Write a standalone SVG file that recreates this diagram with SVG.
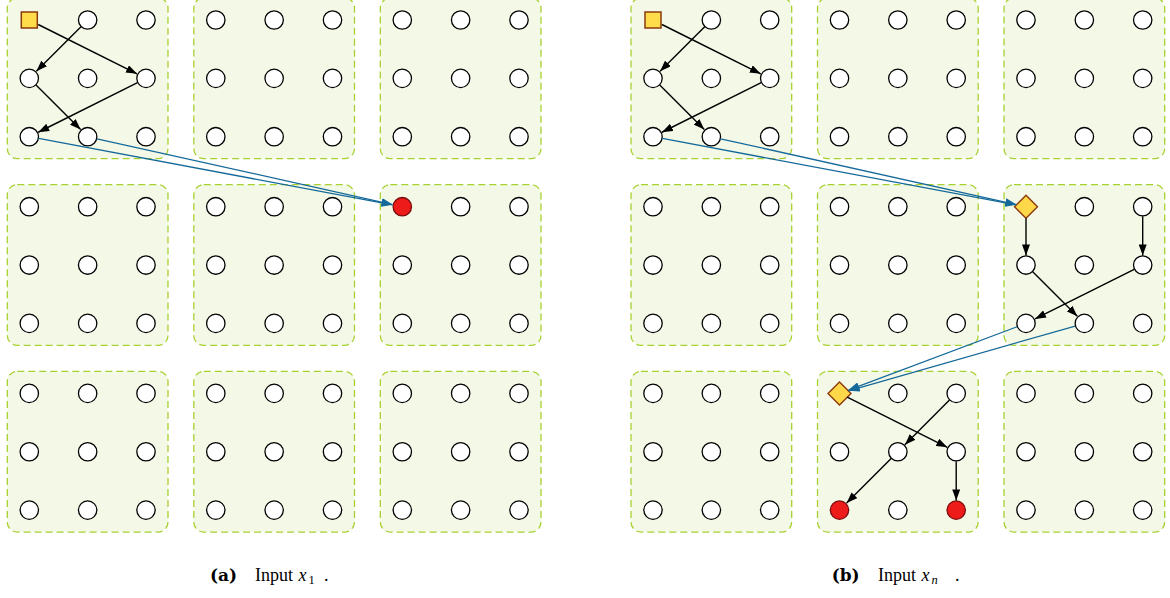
<svg xmlns="http://www.w3.org/2000/svg" width="1170" height="598" viewBox="0 0 1170 598">
<style>
.blk{fill:#f4f9e7;stroke:#a7d130;stroke-width:1.3;stroke-dasharray:7 4}
.n{fill:#ffffff;stroke:#000;stroke-width:1.3}
.r{fill:#ee1b1b;stroke:#7a0c0c;stroke-width:1.3}
.sq{fill:#ffdc4a;stroke:#8a3a0c;stroke-width:1.5}
.dm{fill:#ffd84a;stroke:#8a3a0c;stroke-width:1.4}
.e{stroke:#000;stroke-width:1.4;fill:none;marker-end:url(#ak)}
.eb{stroke:#14699a;stroke-width:1.3;fill:none;marker-end:url(#ab)}
.cap{font-family:"Liberation Serif","Times New Roman",serif;font-size:18px;fill:#000}
.bd{font-family:"DejaVu Serif","Liberation Serif",serif;font-size:17px;font-weight:bold}
.it{font-style:italic}
.sub{font-size:12.5px}
</style>
<defs>
<marker id="ak" markerUnits="userSpaceOnUse" markerWidth="11" markerHeight="8" refX="11" refY="4" orient="auto"><path d="M0,0 L11,4 L0,8 z" fill="#000"/></marker>
<marker id="ab" markerUnits="userSpaceOnUse" markerWidth="11" markerHeight="8" refX="11" refY="4" orient="auto"><path d="M0,0 L11,4 L0,8 z" fill="#14699a"/></marker>
</defs>
<g id="blocks">
<rect class="blk" x="7.3" y="-2" width="160.7" height="160.7" rx="10"/>
<rect class="blk" x="193.8" y="-2" width="160.7" height="160.7" rx="10"/>
<rect class="blk" x="380.3" y="-2" width="160.7" height="160.7" rx="10"/>
<rect class="blk" x="7.3" y="184.7" width="160.7" height="160.7" rx="10"/>
<rect class="blk" x="193.8" y="184.7" width="160.7" height="160.7" rx="10"/>
<rect class="blk" x="380.3" y="184.7" width="160.7" height="160.7" rx="10"/>
<rect class="blk" x="7.3" y="371.4" width="160.7" height="160.7" rx="10"/>
<rect class="blk" x="193.8" y="371.4" width="160.7" height="160.7" rx="10"/>
<rect class="blk" x="380.3" y="371.4" width="160.7" height="160.7" rx="10"/>
<rect class="blk" x="631" y="-2" width="160.7" height="160.7" rx="10"/>
<rect class="blk" x="817.5" y="-2" width="160.7" height="160.7" rx="10"/>
<rect class="blk" x="1004" y="-2" width="160.7" height="160.7" rx="10"/>
<rect class="blk" x="631" y="184.7" width="160.7" height="160.7" rx="10"/>
<rect class="blk" x="817.5" y="184.7" width="160.7" height="160.7" rx="10"/>
<rect class="blk" x="1004" y="184.7" width="160.7" height="160.7" rx="10"/>
<rect class="blk" x="631" y="371.4" width="160.7" height="160.7" rx="10"/>
<rect class="blk" x="817.5" y="371.4" width="160.7" height="160.7" rx="10"/>
<rect class="blk" x="1004" y="371.4" width="160.7" height="160.7" rx="10"/>
</g>
<g id="nodes-a">
<g id="a-n0000"><rect class="sq" x="21.3" y="12" width="16" height="16"/></g>
<g id="a-n0001"><circle class="n" cx="87.65" cy="20" r="9.2"/></g>
<g id="a-n0002"><circle class="n" cx="146" cy="20" r="9.2"/></g>
<g id="a-n0010"><circle class="n" cx="29.3" cy="78.35" r="9.2"/></g>
<g id="a-n0011"><circle class="n" cx="87.65" cy="78.35" r="9.2"/></g>
<g id="a-n0012"><circle class="n" cx="146" cy="78.35" r="9.2"/></g>
<g id="a-n0020"><circle class="n" cx="29.3" cy="136.7" r="9.2"/></g>
<g id="a-n0021"><circle class="n" cx="87.65" cy="136.7" r="9.2"/></g>
<g id="a-n0022"><circle class="n" cx="146" cy="136.7" r="9.2"/></g>
<g id="a-n0100"><circle class="n" cx="215.8" cy="20" r="9.2"/></g>
<g id="a-n0101"><circle class="n" cx="274.15" cy="20" r="9.2"/></g>
<g id="a-n0102"><circle class="n" cx="332.5" cy="20" r="9.2"/></g>
<g id="a-n0110"><circle class="n" cx="215.8" cy="78.35" r="9.2"/></g>
<g id="a-n0111"><circle class="n" cx="274.15" cy="78.35" r="9.2"/></g>
<g id="a-n0112"><circle class="n" cx="332.5" cy="78.35" r="9.2"/></g>
<g id="a-n0120"><circle class="n" cx="215.8" cy="136.7" r="9.2"/></g>
<g id="a-n0121"><circle class="n" cx="274.15" cy="136.7" r="9.2"/></g>
<g id="a-n0122"><circle class="n" cx="332.5" cy="136.7" r="9.2"/></g>
<g id="a-n0200"><circle class="n" cx="402.3" cy="20" r="9.2"/></g>
<g id="a-n0201"><circle class="n" cx="460.65" cy="20" r="9.2"/></g>
<g id="a-n0202"><circle class="n" cx="519" cy="20" r="9.2"/></g>
<g id="a-n0210"><circle class="n" cx="402.3" cy="78.35" r="9.2"/></g>
<g id="a-n0211"><circle class="n" cx="460.65" cy="78.35" r="9.2"/></g>
<g id="a-n0212"><circle class="n" cx="519" cy="78.35" r="9.2"/></g>
<g id="a-n0220"><circle class="n" cx="402.3" cy="136.7" r="9.2"/></g>
<g id="a-n0221"><circle class="n" cx="460.65" cy="136.7" r="9.2"/></g>
<g id="a-n0222"><circle class="n" cx="519" cy="136.7" r="9.2"/></g>
<g id="a-n1000"><circle class="n" cx="29.3" cy="206.7" r="9.2"/></g>
<g id="a-n1001"><circle class="n" cx="87.65" cy="206.7" r="9.2"/></g>
<g id="a-n1002"><circle class="n" cx="146" cy="206.7" r="9.2"/></g>
<g id="a-n1010"><circle class="n" cx="29.3" cy="265.05" r="9.2"/></g>
<g id="a-n1011"><circle class="n" cx="87.65" cy="265.05" r="9.2"/></g>
<g id="a-n1012"><circle class="n" cx="146" cy="265.05" r="9.2"/></g>
<g id="a-n1020"><circle class="n" cx="29.3" cy="323.4" r="9.2"/></g>
<g id="a-n1021"><circle class="n" cx="87.65" cy="323.4" r="9.2"/></g>
<g id="a-n1022"><circle class="n" cx="146" cy="323.4" r="9.2"/></g>
<g id="a-n1100"><circle class="n" cx="215.8" cy="206.7" r="9.2"/></g>
<g id="a-n1101"><circle class="n" cx="274.15" cy="206.7" r="9.2"/></g>
<g id="a-n1102"><circle class="n" cx="332.5" cy="206.7" r="9.2"/></g>
<g id="a-n1110"><circle class="n" cx="215.8" cy="265.05" r="9.2"/></g>
<g id="a-n1111"><circle class="n" cx="274.15" cy="265.05" r="9.2"/></g>
<g id="a-n1112"><circle class="n" cx="332.5" cy="265.05" r="9.2"/></g>
<g id="a-n1120"><circle class="n" cx="215.8" cy="323.4" r="9.2"/></g>
<g id="a-n1121"><circle class="n" cx="274.15" cy="323.4" r="9.2"/></g>
<g id="a-n1122"><circle class="n" cx="332.5" cy="323.4" r="9.2"/></g>
<g id="a-n1200"><circle class="r" cx="402.3" cy="206.7" r="9.2"/></g>
<g id="a-n1201"><circle class="n" cx="460.65" cy="206.7" r="9.2"/></g>
<g id="a-n1202"><circle class="n" cx="519" cy="206.7" r="9.2"/></g>
<g id="a-n1210"><circle class="n" cx="402.3" cy="265.05" r="9.2"/></g>
<g id="a-n1211"><circle class="n" cx="460.65" cy="265.05" r="9.2"/></g>
<g id="a-n1212"><circle class="n" cx="519" cy="265.05" r="9.2"/></g>
<g id="a-n1220"><circle class="n" cx="402.3" cy="323.4" r="9.2"/></g>
<g id="a-n1221"><circle class="n" cx="460.65" cy="323.4" r="9.2"/></g>
<g id="a-n1222"><circle class="n" cx="519" cy="323.4" r="9.2"/></g>
<g id="a-n2000"><circle class="n" cx="29.3" cy="393.4" r="9.2"/></g>
<g id="a-n2001"><circle class="n" cx="87.65" cy="393.4" r="9.2"/></g>
<g id="a-n2002"><circle class="n" cx="146" cy="393.4" r="9.2"/></g>
<g id="a-n2010"><circle class="n" cx="29.3" cy="451.75" r="9.2"/></g>
<g id="a-n2011"><circle class="n" cx="87.65" cy="451.75" r="9.2"/></g>
<g id="a-n2012"><circle class="n" cx="146" cy="451.75" r="9.2"/></g>
<g id="a-n2020"><circle class="n" cx="29.3" cy="510.1" r="9.2"/></g>
<g id="a-n2021"><circle class="n" cx="87.65" cy="510.1" r="9.2"/></g>
<g id="a-n2022"><circle class="n" cx="146" cy="510.1" r="9.2"/></g>
<g id="a-n2100"><circle class="n" cx="215.8" cy="393.4" r="9.2"/></g>
<g id="a-n2101"><circle class="n" cx="274.15" cy="393.4" r="9.2"/></g>
<g id="a-n2102"><circle class="n" cx="332.5" cy="393.4" r="9.2"/></g>
<g id="a-n2110"><circle class="n" cx="215.8" cy="451.75" r="9.2"/></g>
<g id="a-n2111"><circle class="n" cx="274.15" cy="451.75" r="9.2"/></g>
<g id="a-n2112"><circle class="n" cx="332.5" cy="451.75" r="9.2"/></g>
<g id="a-n2120"><circle class="n" cx="215.8" cy="510.1" r="9.2"/></g>
<g id="a-n2121"><circle class="n" cx="274.15" cy="510.1" r="9.2"/></g>
<g id="a-n2122"><circle class="n" cx="332.5" cy="510.1" r="9.2"/></g>
<g id="a-n2200"><circle class="n" cx="402.3" cy="393.4" r="9.2"/></g>
<g id="a-n2201"><circle class="n" cx="460.65" cy="393.4" r="9.2"/></g>
<g id="a-n2202"><circle class="n" cx="519" cy="393.4" r="9.2"/></g>
<g id="a-n2210"><circle class="n" cx="402.3" cy="451.75" r="9.2"/></g>
<g id="a-n2211"><circle class="n" cx="460.65" cy="451.75" r="9.2"/></g>
<g id="a-n2212"><circle class="n" cx="519" cy="451.75" r="9.2"/></g>
<g id="a-n2220"><circle class="n" cx="402.3" cy="510.1" r="9.2"/></g>
<g id="a-n2221"><circle class="n" cx="460.65" cy="510.1" r="9.2"/></g>
<g id="a-n2222"><circle class="n" cx="519" cy="510.1" r="9.2"/></g>
</g>
<g id="nodes-b">
<g id="b-n0000"><rect class="sq" x="645" y="12" width="16" height="16"/></g>
<g id="b-n0001"><circle class="n" cx="711.35" cy="20" r="9.2"/></g>
<g id="b-n0002"><circle class="n" cx="769.7" cy="20" r="9.2"/></g>
<g id="b-n0010"><circle class="n" cx="653" cy="78.35" r="9.2"/></g>
<g id="b-n0011"><circle class="n" cx="711.35" cy="78.35" r="9.2"/></g>
<g id="b-n0012"><circle class="n" cx="769.7" cy="78.35" r="9.2"/></g>
<g id="b-n0020"><circle class="n" cx="653" cy="136.7" r="9.2"/></g>
<g id="b-n0021"><circle class="n" cx="711.35" cy="136.7" r="9.2"/></g>
<g id="b-n0022"><circle class="n" cx="769.7" cy="136.7" r="9.2"/></g>
<g id="b-n0100"><circle class="n" cx="839.5" cy="20" r="9.2"/></g>
<g id="b-n0101"><circle class="n" cx="897.85" cy="20" r="9.2"/></g>
<g id="b-n0102"><circle class="n" cx="956.2" cy="20" r="9.2"/></g>
<g id="b-n0110"><circle class="n" cx="839.5" cy="78.35" r="9.2"/></g>
<g id="b-n0111"><circle class="n" cx="897.85" cy="78.35" r="9.2"/></g>
<g id="b-n0112"><circle class="n" cx="956.2" cy="78.35" r="9.2"/></g>
<g id="b-n0120"><circle class="n" cx="839.5" cy="136.7" r="9.2"/></g>
<g id="b-n0121"><circle class="n" cx="897.85" cy="136.7" r="9.2"/></g>
<g id="b-n0122"><circle class="n" cx="956.2" cy="136.7" r="9.2"/></g>
<g id="b-n0200"><circle class="n" cx="1026" cy="20" r="9.2"/></g>
<g id="b-n0201"><circle class="n" cx="1084.35" cy="20" r="9.2"/></g>
<g id="b-n0202"><circle class="n" cx="1142.7" cy="20" r="9.2"/></g>
<g id="b-n0210"><circle class="n" cx="1026" cy="78.35" r="9.2"/></g>
<g id="b-n0211"><circle class="n" cx="1084.35" cy="78.35" r="9.2"/></g>
<g id="b-n0212"><circle class="n" cx="1142.7" cy="78.35" r="9.2"/></g>
<g id="b-n0220"><circle class="n" cx="1026" cy="136.7" r="9.2"/></g>
<g id="b-n0221"><circle class="n" cx="1084.35" cy="136.7" r="9.2"/></g>
<g id="b-n0222"><circle class="n" cx="1142.7" cy="136.7" r="9.2"/></g>
<g id="b-n1000"><circle class="n" cx="653" cy="206.7" r="9.2"/></g>
<g id="b-n1001"><circle class="n" cx="711.35" cy="206.7" r="9.2"/></g>
<g id="b-n1002"><circle class="n" cx="769.7" cy="206.7" r="9.2"/></g>
<g id="b-n1010"><circle class="n" cx="653" cy="265.05" r="9.2"/></g>
<g id="b-n1011"><circle class="n" cx="711.35" cy="265.05" r="9.2"/></g>
<g id="b-n1012"><circle class="n" cx="769.7" cy="265.05" r="9.2"/></g>
<g id="b-n1020"><circle class="n" cx="653" cy="323.4" r="9.2"/></g>
<g id="b-n1021"><circle class="n" cx="711.35" cy="323.4" r="9.2"/></g>
<g id="b-n1022"><circle class="n" cx="769.7" cy="323.4" r="9.2"/></g>
<g id="b-n1100"><circle class="n" cx="839.5" cy="206.7" r="9.2"/></g>
<g id="b-n1101"><circle class="n" cx="897.85" cy="206.7" r="9.2"/></g>
<g id="b-n1102"><circle class="n" cx="956.2" cy="206.7" r="9.2"/></g>
<g id="b-n1110"><circle class="n" cx="839.5" cy="265.05" r="9.2"/></g>
<g id="b-n1111"><circle class="n" cx="897.85" cy="265.05" r="9.2"/></g>
<g id="b-n1112"><circle class="n" cx="956.2" cy="265.05" r="9.2"/></g>
<g id="b-n1120"><circle class="n" cx="839.5" cy="323.4" r="9.2"/></g>
<g id="b-n1121"><circle class="n" cx="897.85" cy="323.4" r="9.2"/></g>
<g id="b-n1122"><circle class="n" cx="956.2" cy="323.4" r="9.2"/></g>
<g id="b-n1200"><path class="dm" d="M1026,195.2 L1037.5,206.7 L1026,218.2 L1014.5,206.7 Z"/></g>
<g id="b-n1201"><circle class="n" cx="1084.35" cy="206.7" r="9.2"/></g>
<g id="b-n1202"><circle class="n" cx="1142.7" cy="206.7" r="9.2"/></g>
<g id="b-n1210"><circle class="n" cx="1026" cy="265.05" r="9.2"/></g>
<g id="b-n1211"><circle class="n" cx="1084.35" cy="265.05" r="9.2"/></g>
<g id="b-n1212"><circle class="n" cx="1142.7" cy="265.05" r="9.2"/></g>
<g id="b-n1220"><circle class="n" cx="1026" cy="323.4" r="9.2"/></g>
<g id="b-n1221"><circle class="n" cx="1084.35" cy="323.4" r="9.2"/></g>
<g id="b-n1222"><circle class="n" cx="1142.7" cy="323.4" r="9.2"/></g>
<g id="b-n2000"><circle class="n" cx="653" cy="393.4" r="9.2"/></g>
<g id="b-n2001"><circle class="n" cx="711.35" cy="393.4" r="9.2"/></g>
<g id="b-n2002"><circle class="n" cx="769.7" cy="393.4" r="9.2"/></g>
<g id="b-n2010"><circle class="n" cx="653" cy="451.75" r="9.2"/></g>
<g id="b-n2011"><circle class="n" cx="711.35" cy="451.75" r="9.2"/></g>
<g id="b-n2012"><circle class="n" cx="769.7" cy="451.75" r="9.2"/></g>
<g id="b-n2020"><circle class="n" cx="653" cy="510.1" r="9.2"/></g>
<g id="b-n2021"><circle class="n" cx="711.35" cy="510.1" r="9.2"/></g>
<g id="b-n2022"><circle class="n" cx="769.7" cy="510.1" r="9.2"/></g>
<g id="b-n2100"><path class="dm" d="M839.5,381.9 L851,393.4 L839.5,404.9 L828,393.4 Z"/></g>
<g id="b-n2101"><circle class="n" cx="897.85" cy="393.4" r="9.2"/></g>
<g id="b-n2102"><circle class="n" cx="956.2" cy="393.4" r="9.2"/></g>
<g id="b-n2110"><circle class="n" cx="839.5" cy="451.75" r="9.2"/></g>
<g id="b-n2111"><circle class="n" cx="897.85" cy="451.75" r="9.2"/></g>
<g id="b-n2112"><circle class="n" cx="956.2" cy="451.75" r="9.2"/></g>
<g id="b-n2120"><circle class="r" cx="839.5" cy="510.1" r="9.2"/></g>
<g id="b-n2121"><circle class="n" cx="897.85" cy="510.1" r="9.2"/></g>
<g id="b-n2122"><circle class="r" cx="956.2" cy="510.1" r="9.2"/></g>
<g id="b-n2200"><circle class="n" cx="1026" cy="393.4" r="9.2"/></g>
<g id="b-n2201"><circle class="n" cx="1084.35" cy="393.4" r="9.2"/></g>
<g id="b-n2202"><circle class="n" cx="1142.7" cy="393.4" r="9.2"/></g>
<g id="b-n2210"><circle class="n" cx="1026" cy="451.75" r="9.2"/></g>
<g id="b-n2211"><circle class="n" cx="1084.35" cy="451.75" r="9.2"/></g>
<g id="b-n2212"><circle class="n" cx="1142.7" cy="451.75" r="9.2"/></g>
<g id="b-n2220"><circle class="n" cx="1026" cy="510.1" r="9.2"/></g>
<g id="b-n2221"><circle class="n" cx="1084.35" cy="510.1" r="9.2"/></g>
<g id="b-n2222"><circle class="n" cx="1142.7" cy="510.1" r="9.2"/></g>
</g>
<g id="connectors">
<line class="e" x1="38.2" y1="24.5" x2="137.05" y2="73.85"/>
<line class="e" x1="80.98" y1="26.71" x2="36.38" y2="71.25"/>
<line class="e" x1="36.02" y1="85.05" x2="80.6" y2="129.6"/>
<line class="e" x1="137.5" y1="82.6" x2="38.24" y2="132.25"/>
<line class="eb" x1="38.64" y1="138.45" x2="392.47" y2="204.86"/>
<line class="eb" x1="96.97" y1="138.76" x2="392.54" y2="204.53"/>
<line class="e" x1="661.9" y1="24.5" x2="760.75" y2="73.85"/>
<line class="e" x1="704.68" y1="26.71" x2="660.08" y2="71.25"/>
<line class="e" x1="659.72" y1="85.05" x2="704.3" y2="129.6"/>
<line class="e" x1="761.2" y1="82.6" x2="661.94" y2="132.25"/>
<line class="eb" x1="662.34" y1="138.45" x2="1016.17" y2="204.86"/>
<line class="eb" x1="720.57" y1="138.76" x2="1016.24" y2="204.53"/>
<line class="e" x1="1026" y1="218.2" x2="1026" y2="255.4"/>
<line class="e" x1="1142.7" y1="216.2" x2="1142.7" y2="255.4"/>
<line class="e" x1="1032.72" y1="271.77" x2="1077.3" y2="316.3"/>
<line class="e" x1="1134.2" y1="269.3" x2="1035" y2="318.9"/>
<line class="eb" x1="1017.1" y1="326.75" x2="848.4" y2="390.05"/>
<line class="eb" x1="1075.2" y1="326" x2="848.6" y2="390.75"/>
<line class="e" x1="847.2" y1="397.2" x2="947.3" y2="447.3"/>
<line class="e" x1="949.5" y1="400.1" x2="904.9" y2="444.7"/>
<line class="e" x1="891.1" y1="458.5" x2="846.6" y2="503"/>
<line class="e" x1="956.2" y1="461.3" x2="956.2" y2="500.4"/>
</g>
<g id="captions">
<text class="cap bd" x="210" y="580.5">(a)</text>
<text class="cap" x="255" y="580.5">Input</text>
<text class="cap it" x="298.5" y="580.5">x</text>
<text class="cap sub" x="308.5" y="583.5">1</text>
<text class="cap" x="324" y="580.5">.</text>
<text class="cap bd" x="831.7" y="580.5">(b)</text>
<text class="cap" x="878" y="580.5">Input</text>
<text class="cap it" x="921.5" y="580.5">x</text>
<text class="cap sub it" x="931.5" y="583.5">n</text>
<text class="cap" x="955" y="580.5">.</text>
</g>
</svg>
